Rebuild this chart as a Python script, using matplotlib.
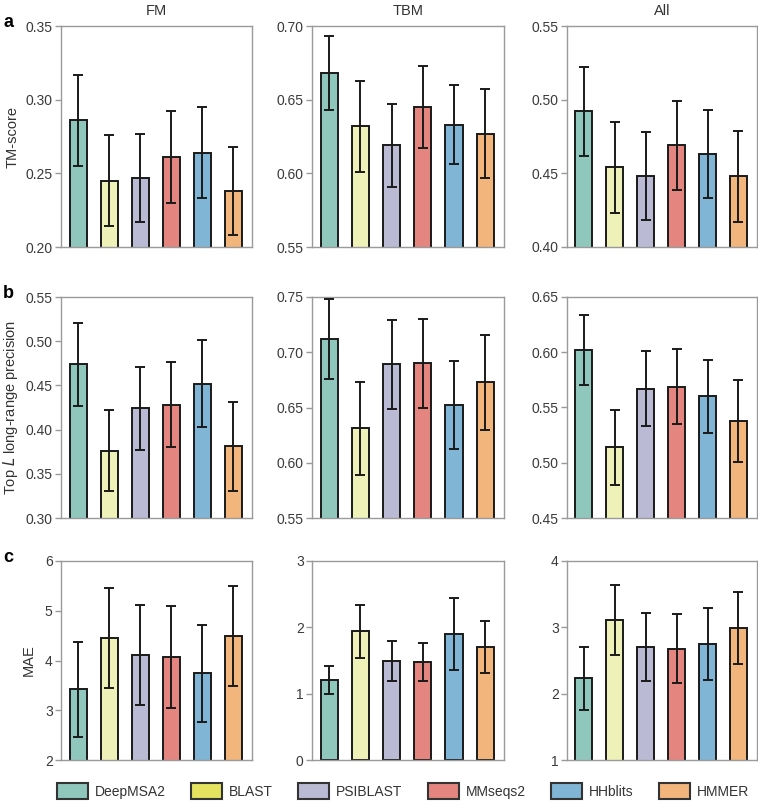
import matplotlib
matplotlib.use("Agg")
import matplotlib.pyplot as plt
import numpy as np
from matplotlib.patches import Patch

# DATA
methods = ["DeepMSA2", "BLAST", "PSIBLAST", "MMseqs2", "HHblits", "HMMER"]
bar_colors = ["#8fc7bc", "#eef2b9", "#babad5", "#e4867f", "#80b5d5", "#f2b57b"]
legend_colors = ["#8fc7bc", "#e4e25f", "#babad5", "#e4867f", "#80b5d5", "#f2b57b"]
columns = ["FM", "TBM", "All"]

# TM-score (row a)
tm_fm = [0.286, 0.245, 0.247, 0.261, 0.264, 0.238]
tm_fm_err = [0.031, 0.031, 0.030, 0.031, 0.031, 0.030]
tm_tbm = [0.668, 0.632, 0.619, 0.645, 0.633, 0.627]
tm_tbm_err = [0.025, 0.031, 0.028, 0.028, 0.027, 0.030]
tm_all = [0.492, 0.454, 0.448, 0.469, 0.463, 0.448]
tm_all_err = [0.030, 0.031, 0.030, 0.030, 0.030, 0.031]

# Top L long-range precision (row b)
prec_fm = [0.474, 0.376, 0.424, 0.428, 0.452, 0.381]
prec_fm_err = [0.047, 0.046, 0.047, 0.048, 0.049, 0.050]
prec_tbm = [0.712, 0.631, 0.689, 0.690, 0.652, 0.673]
prec_tbm_err = [0.036, 0.042, 0.040, 0.040, 0.040, 0.043]
prec_all = [0.602, 0.514, 0.567, 0.569, 0.560, 0.538]
prec_all_err = [0.032, 0.034, 0.034, 0.034, 0.033, 0.037]

# MAE (row c)
mae_fm = [3.42, 4.45, 4.11, 4.07, 3.74, 4.49]
mae_fm_err = [0.95, 1.00, 1.00, 1.03, 0.97, 1.00]
mae_tbm = [1.20, 1.94, 1.49, 1.48, 1.90, 1.70]
mae_tbm_err = [0.21, 0.40, 0.30, 0.29, 0.54, 0.39]
mae_all = [2.23, 3.11, 2.70, 2.68, 2.75, 2.99]
mae_all_err = [0.47, 0.53, 0.51, 0.52, 0.54, 0.54]

rows = [
    ([tm_fm, tm_tbm, tm_all], [tm_fm_err, tm_tbm_err, tm_all_err],
     [(0.20, 0.35), (0.55, 0.70), (0.40, 0.55)], 0.05, "TM-score", "a"),
    ([prec_fm, prec_tbm, prec_all], [prec_fm_err, prec_tbm_err, prec_all_err],
     [(0.30, 0.55), (0.55, 0.75), (0.45, 0.65)], 0.05,
     "Top $\\it{L}$ long-range precision", "b"),
    ([mae_fm, mae_tbm, mae_all], [mae_fm_err, mae_tbm_err, mae_all_err],
     [(2, 6), (0, 3), (1, 4)], 1, "MAE", "c"),
]

plt.rcParams["font.family"] = ["Liberation Sans", "DejaVu Sans"]

W, H = 758, 802
fig = plt.figure(figsize=(W / 100, H / 100), dpi=100)

# axes boxes in pixels: (left, right), (top, bottom)
col_px = [(61, 252), (312, 504), (567, 757)]
row_px = [(26, 247), (297, 518), (561, 760)]
ylabel_x = [13, 11, 29]  # pixel centre of each row's y label

x = np.arange(len(methods))
for r, (vals, errs, lims, step, ylabel, letter) in enumerate(rows):
    top, bot = row_px[r]
    for c in range(3):
        left, right = col_px[c]
        ax = fig.add_axes([left / W, 1 - bot / H, (right - left) / W, (bot - top) / H])
        ax.bar(x, vals[c], width=0.55, color=bar_colors, edgecolor="#1a1a1a",
               linewidth=1.4, zorder=2)
        ax.errorbar(x, vals[c], yerr=errs[c], fmt="none", ecolor="#1a1a1a",
                    elinewidth=1.4, capsize=3.5, capthick=1.4, zorder=3)
        lo, hi = lims[c]
        ax.set_ylim(lo, hi)
        ax.set_xlim(-0.55, 5.6)
        if step == 1:
            ax.set_yticks(np.arange(lo, hi + 0.5, 1))
            ax.set_yticklabels([f"{v:d}" for v in range(lo, hi + 1)])
        else:
            ticks = np.round(np.arange(lo, hi + 1e-9, step), 2)
            ax.set_yticks(ticks)
            ax.set_yticklabels([f"{t:.2f}" for t in ticks])
        ax.set_xticks([])
        for s in ax.spines.values():
            s.set_color("#9a9a9a")
            s.set_linewidth(1.0)
        ax.tick_params(axis="y", length=4, width=1, color="#9a9a9a",
                       labelsize=10, labelcolor="#3a3a3a", pad=2)
        if r == 0:
            ax.set_title(columns[c], fontsize=10.5, color="#333333", pad=8)
        if c == 0:
            ax.set_ylabel(ylabel, fontsize=10.5, color="#333333", va="center")
            ax.yaxis.set_label_coords((ylabel_x[r] - left) / (right - left), 0.5)
            fig.text(3 / W, 1 - (top + 1) / H, letter, fontsize=13, fontweight="bold",
                     va="baseline", ha="left")

handles = [Patch(facecolor=legend_colors[i], edgecolor="#333333", linewidth=1.5,
                 label=methods[i]) for i in range(len(methods))]
fig.legend(handles=handles, loc="center", bbox_to_anchor=(403 / W, 1 - 791 / H),
           ncol=6, frameon=False, fontsize=10, handlelength=2.2, handleheight=1.3,
           handletextpad=0.5, columnspacing=1.85, labelcolor="#333333")

fig.savefig("out.png", dpi=100)
